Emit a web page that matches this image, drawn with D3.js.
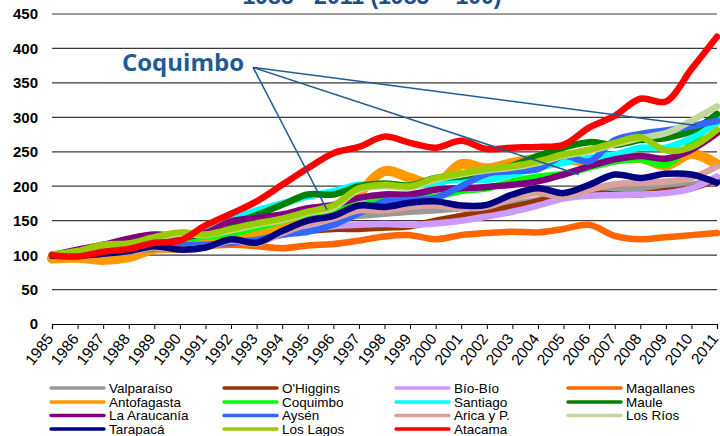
<!DOCTYPE html>
<html><head><meta charset="utf-8">
<script src="https://cdn.jsdelivr.net/npm/d3@7"></script>
<style>body{margin:0;background:#fff} svg{display:block}</style>
</head><body><svg id="c" width="720" height="436"></svg>
<script>
const years = [1985,1986,1987,1988,1989,1990,1991,1992,1993,1994,1995,1996,1997,1998,1999,2000,2001,2002,2003,2004,2005,2006,2007,2008,2009,2010,2011];
const yTicks = [0,50,100,150,200,250,300,350,400,450];
const titleText = "1985 - 2011 (1985 = 100)";

const valparaiso  = [100,104,108,112,117,118,121,127,130,138,146,152,157,160,163,165,168,170,174,180,188,194,197,197,200,202,209];
const ohiggins    = [100,103,107,110,114,116,120,124,127,131,135,138,138,140,142,150,157,163,170,178,188,190,188,188,193,197,210];
const biobio      = [100,102,105,108,111,113,116,119,122,129,136,142,144,145,144,146,150,156,163,172,182,186,187,188,190,197,214];
const magallanes  = [100,101,103,106,110,111,113,115,113,110,114,116,121,127,129,123,129,132,134,133,138,144,128,123,126,129,132];
const antofagasta = [95,96,93,97,109,111,117,130,134,140,150,165,190,222,212,203,232,226,234,240,239,236,239,241,230,247,232];
const coquimbo    = [100,106,112,122,125,123,127,131,140,150,160,167,173,180,183,185,193,197,207,214,218,227,236,239,231,263,299];
const santiago    = [100,104,110,116,121,125,135,152,165,175,185,193,202,202,200,205,210,209,217,227,234,241,246,256,256,270,292];
const maule       = [100,105,110,116,122,125,132,145,158,173,188,188,200,204,201,212,214,222,230,244,256,264,260,267,270,280,305];
const araucania   = [100,108,115,124,130,128,132,149,154,159,168,173,183,188,188,195,197,199,202,207,217,229,239,244,240,253,277];
const aysen       = [100,101,103,107,110,114,115,118,122,130,134,144,161,178,180,183,200,218,222,225,244,236,267,276,281,287,295];
const arica       = [100,99,102,105,111,108,111,121,117,132,145,153,165,165,170,172,168,170,182,190,185,195,203,205,207,212,229];
const losrios     = [100,105,113,116,124,131,129,136,144,151,161,169,195,200,198,210,217,223,227,234,244,251,261,270,277,295,316];
const tarapaca    = [99,99,102,106,113,108,111,123,118,135,150,157,172,170,176,178,172,173,188,197,190,202,217,212,218,217,205];
const loslagos    = [101,106,115,117,126,133,130,138,146,153,163,172,197,202,200,212,219,225,229,236,246,253,263,271,252,257,282];
const atacama     = [100,98,105,109,118,121,143,160,178,202,226,248,257,272,263,256,266,254,256,257,260,285,302,327,323,370,417];

const names  = ["Valparaíso","O'Higgins","Bío-Bío","Magallanes","Antofagasta","Coquimbo","Santiago","Maule","La Araucanía","Aysén","Arica y P.","Los Ríos","Tarapacá","Los Lagos","Atacama"];
const values = [valparaiso,ohiggins,biobio,magallanes,antofagasta,coquimbo,santiago,maule,araucania,aysen,arica,losrios,tarapaca,loslagos,atacama];
const colors = ["#999999","#993300","#cc99ff","#ff6600","#ff9900","#00ff00","#00ffff","#008000","#800080","#3366ff","#d9a09c","#c4d79b","#000080","#99cc00","#ff0000"];

// annotation: label anchor and Coquimbo target points (year, value)
const annoLabel = "Coquimbo";
const annoOrigin = [1992.86, 372.5];
const annoTargets = [[1995.75, 166], [2005.6, 217], [2010.2, 288]];

const svg = d3.select("#c");
const x = d3.scaleLinear().domain([1985, 2011]).range([52, 717]);
const y = d3.scaleLinear().domain([0, 450]).range([324, 14]);

// gridlines
svg.append("g").selectAll("line").data(yTicks.filter(d => d > 0)).join("line")
  .attr("x1", x(1985)).attr("x2", x(2011))
  .attr("y1", d => y(d)).attr("y2", d => y(d))
  .attr("stroke", "#3a3a3a").attr("stroke-width", 1.2);

// y labels
svg.append("g").selectAll("text").data(yTicks).join("text")
  .attr("x", 38).attr("y", d => y(d)).attr("dy", "0.36em")
  .attr("text-anchor", "end")
  .style("font", "bold 15px 'Liberation Sans', Arial, sans-serif")
  .attr("fill", "#000").text(d => d);

// x axis
const xAxis = d3.axisBottom(x).tickValues(years).tickSize(5).tickFormat("");
const gx = svg.append("g").attr("transform", `translate(0,${y(0)})`).call(xAxis);
gx.select(".domain").attr("stroke", "#000").attr("stroke-width", 1.2);
gx.selectAll(".tick line").attr("stroke", "#000");
svg.append("g").selectAll("text").data(years).join("text")
  .attr("transform", d => `translate(${x(d) + 2},${y(0) + 15}) rotate(-52)`)
  .attr("text-anchor", "end")
  .style("font", "15.5px 'Liberation Sans', Arial, sans-serif")
  .attr("fill", "#000").text(d => d);

// series lines
const line = d3.line().x((d, i) => x(years[i])).y(d => y(d)).curve(d3.curveCatmullRom.alpha(0.5));
svg.append("g").selectAll("path").data(values).join("path")
  .attr("d", d => line(d))
  .attr("fill", "none")
  .attr("stroke", (d, i) => colors[i])
  .attr("stroke-width", (d, i) => names[i] === "Antofagasta" ? 10 : 6.5)
  .attr("stroke-linejoin", "round").attr("stroke-linecap", "round");

// title (cut at top)
svg.append("text").attr("x", 372).attr("y", 4).attr("text-anchor", "middle")
  .style("font", "bold 23px 'Liberation Sans', Arial, sans-serif")
  .attr("fill", "#1c4f8c").text(titleText);

// annotation
const ag = svg.append("g");
ag.selectAll("line").data(annoTargets).join("line")
  .attr("x1", x(annoOrigin[0])).attr("y1", y(annoOrigin[1]))
  .attr("x2", d => x(d[0])).attr("y2", d => y(d[1]))
  .attr("stroke", "#1f5a96").attr("stroke-width", 1.5);
ag.append("text").attr("x", x(annoOrigin[0]) - 9).attr("y", y(annoOrigin[1]) + 4)
  .attr("text-anchor", "end")
  .style("font", "bold 24px 'Open Sans', sans-serif")
  .attr("fill", "#1f5a96").text(annoLabel);

// legend (4 columns, row-major)
const colX = [51, 224, 396, 568];
const rowY = [388, 402, 415.5, 429];
const lg = svg.append("g").selectAll("g").data(names).join("g")
  .attr("transform", (d, i) => `translate(${colX[i % 4]},${rowY[Math.floor(i / 4)]})`);
lg.append("line").attr("x1", 0).attr("x2", 53).attr("y1", 0).attr("y2", 0)
  .attr("stroke", (d, i) => colors[i]).attr("stroke-width", 3.5).attr("stroke-linecap", "round");
lg.append("text").attr("x", 58).attr("y", 0).attr("dy", "0.36em")
  .style("font", "13.5px 'Liberation Sans', Arial, sans-serif")
  .attr("fill", "#000").text(d => d);
</script></body></html>
